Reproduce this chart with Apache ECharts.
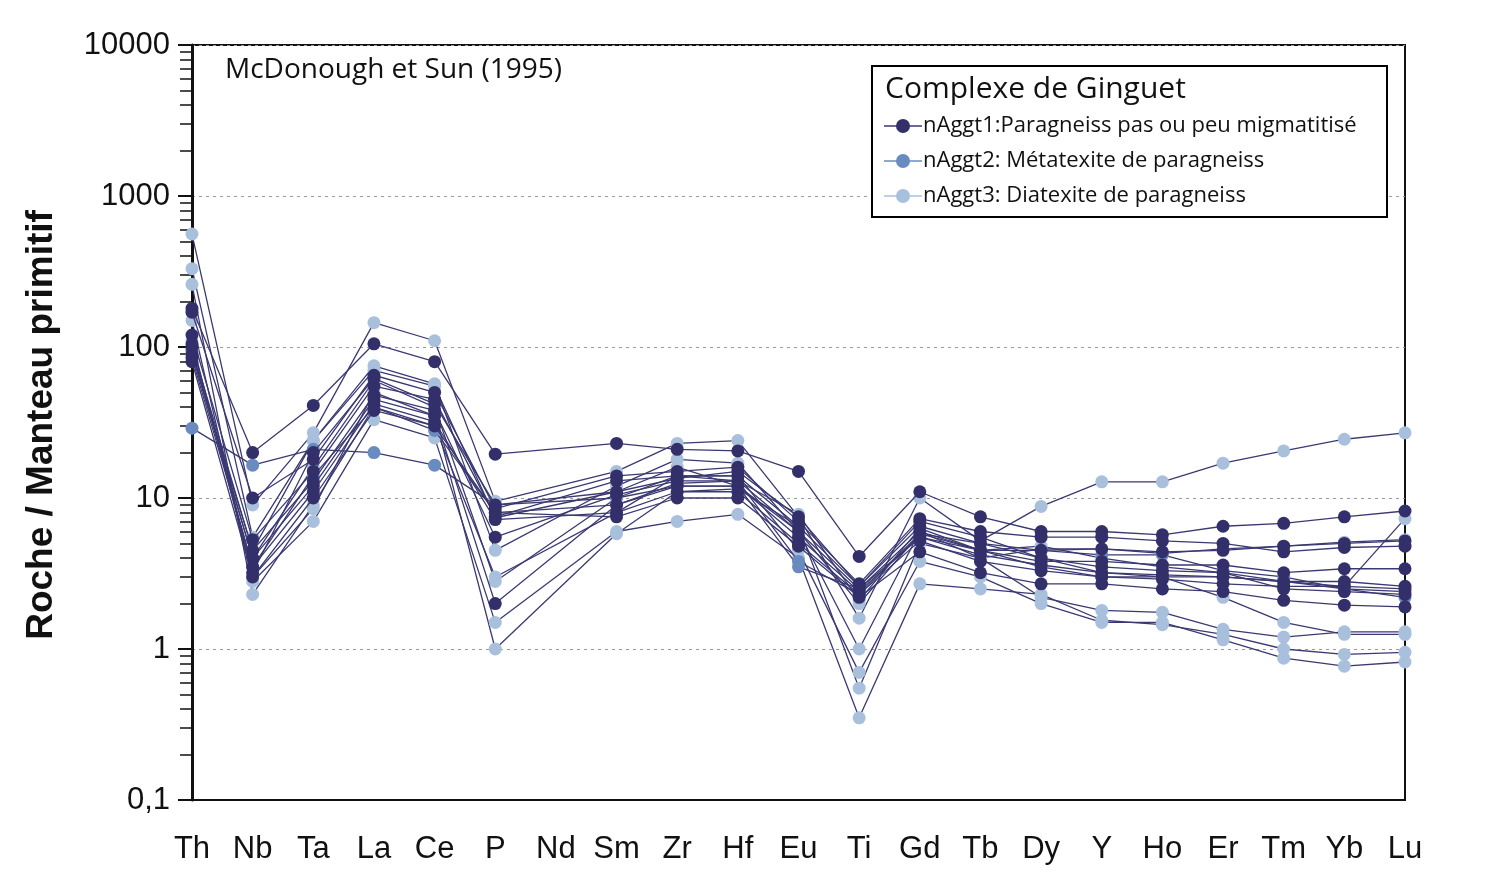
<!DOCTYPE html>
<html>
<head>
<meta charset="utf-8">
<script src="https://cdn.jsdelivr.net/npm/echarts@6/dist/echarts.min.js"></script>
<style>html,body{margin:0;padding:0;background:#fff}#main{width:1500px;height:894px}</style>
</head>
<body>
<div id="main"></div>
<script>
var elements = ['Th','Nb','Ta','La','Ce','P','Nd','Sm','Zr','Hf','Eu','Ti','Gd','Tb','Dy','Y','Ho','Er','Tm','Yb','Lu'];
var yTicks = ['0,1','1','10','100','1000','10000'];

// nAggt1: Paragneiss pas ou peu migmatitisé
var group1 = [
  [180, 20, 41, 105, 80, 19.5, null, 23, 21, 20.5, 15, 4.1, 11, 7.5, 6, 6, 5.7, 6.5, 6.8, 7.5, 8.2],
  [170, 10, 18, 65, 50, 8.5, null, 14, 15, 16, 7, 2.7, 7.3, 6, 5.5, 5.5, 5.2, 5, 4.4, 4.7, 4.8],
  [120, 5.3, 15, 55, 45, 7.5, null, 13, 14, 14, 6.5, 2.6, 6.5, 5, 4.5, 4.6, 4.4, 4.5, 4.8, 5, 5.2],
  [100, 4.5, 13, 48, 38, 5.5, null, 10.5, 13, 13, 6, 2.5, 6, 4.5, 3.8, 3.8, 3.6, 3.6, 3.2, 3.4, 3.4],
  [90, 4, 12, 45, 35, 2, null, 9, 12, 12, 5.5, 2.4, 5.5, 4.2, 3.6, 3.2, 3.1, 3, 2.8, 2.8, 2.6],
  [85, 3.5, 11, 42, 32, 7.2, null, 8, 11, 11, 5, 2.3, 5.2, 3.8, 3.3, 3.0, 2.9, 2.7, 2.6, 2.6, 2.5],
  [80, 3, 10, 38, 30, 8, null, 7.5, 10, 10, 4.8, 2.2, 4.4, 3.2, 2.7, 2.7, 2.5, 2.4, 2.1, 1.95, 1.9],
  [105, 3.2, 20, 62, 42, 9, null, 11, 13.5, 15, 7.5, 2.6, 7, 5.5, 4, 3.5, 3.3, 3.2, 2.5, 2.4, 2.3]
];
// nAggt2: Métatexite de paragneiss
var group2 = [
  [29, 16.5, 21, 20, 16.5, 9, null, 10, 12, 12, 3.5, 2.5, 5.5, 4.5, 4.5, 4.2, 4.2, 3.3, 3, 2.5, 2.2],
  [95, 3.5, 14, 40, 28, 8, null, 9, 12.5, 13, 3.8, 2.3, 5.8, 4.5, 3.5, 3, 3, 3, 2.8, 2.5, 2.4]
];
// nAggt3: Diatexite de paragneiss
var group3 = [
  [560, 9, 27, 145, 110, 9.5, null, 15, 23, 24, 7.5, 1.6, 10, 5.2, 8.8, 12.8, 12.8, 17, 20.5, 24.5, 27],
  [330, 5.5, 24, 75, 57, 4.5, null, 12, 18, 17, 6, 1, 6, 4, 2.2, 1.8, 1.75, 1.35, 1.2, 1.3, 1.3],
  [260, 2.3, 9, 40, 30, 3, null, 8, 14, 14, 4.5, 0.7, 3.8, 3, 2, 1.5, 1.5, 1.15, 0.87, 0.77, 0.82],
  [150, 2.8, 7, 33, 25, 1.5, null, 6, 7, 7.8, 4, 0.35, 2.7, 2.5, 2.3, 1.55, 1.45, 1.25, 1.0, 0.92, 0.95],
  [110, 3, 8.5, 50, 35, 1, null, 5.8, 11, 11.5, 6.5, 0.55, 5, 4, 4.6, 4.6, 4.3, 4.6, 4.8, 5.1, 5.3],
  [90, 4.5, 24, 70, 55, 7.4, null, 11, 16, 12, 6, 2, 5.8, 5, 4, 3.2, 3, 2.2, 1.5, 1.25, 1.25],
  [95, 4, 16, 60, 40, 2.8, null, 10, 14, 13, 7.8, 2.1, 6.3, 4.5, 4.8, 4, 3.5, 3.2, 2.8, 2.6, 7.3]
];

var colors = ['#332f6b', '#6a8bbf', '#a9c0dd'];
var lineColor = '#3b3972';
var series = [];
function addGroup(arr, color, z) {
  arr.forEach(function (d) {
    series.push({
      type: 'line', data: d, connectNulls: true, symbol: 'circle', symbolSize: 13,
      z: z, lineStyle: {color: lineColor, width: 1.3}, itemStyle: {color: color}
    });
  });
}
addGroup(group3, colors[2], 2);
addGroup(group2, colors[1], 3);
addGroup(group1, colors[0], 4);

var chart = echarts.init(document.getElementById('main'));
var lx = 872, ly = 66;
var legendItems = ['nAggt1:Paragneiss pas ou peu migmatitisé', 'nAggt2: Métatexite de paragneiss', 'nAggt3: Diatexite de paragneiss'];
var graphics = [
  {type: 'rect', shape: {x: lx, y: ly, width: 515, height: 151}, style: {fill: '#fff', stroke: '#000', lineWidth: 2}, z: 10},
  {type: 'text', x: lx + 13, y: ly + 8, style: {text: 'Complexe de Ginguet', font: '30px "Open Sans", sans-serif', fill: '#111'}, z: 11},
  {type: 'text', x: 225, y: 56, style: {text: 'McDonough et Sun (1995)', font: '28px "Open Sans", sans-serif', fill: '#111'}, z: 11},
  {type: 'text', x: 42, y: 425, rotation: Math.PI / 2, style: {text: 'Roche / Manteau primitif', font: 'bold 37px "Liberation Sans", Arial, sans-serif', fill: '#111', align: 'center', verticalAlign: 'middle'}, z: 11}
];
legendItems.forEach(function (t, i) {
  var yy = ly + 60 + i * 35;
  graphics.push({type: 'line', shape: {x1: lx + 12, y1: yy, x2: lx + 50, y2: yy}, style: {stroke: i === 0 ? lineColor : colors[i], lineWidth: 1.5}, z: 11});
  graphics.push({type: 'circle', shape: {cx: lx + 31, cy: yy, r: 7}, style: {fill: colors[i]}, z: 12});
  graphics.push({type: 'text', x: lx + 51, y: yy, style: {text: t, font: '22px "Open Sans", sans-serif', fill: '#111', verticalAlign: 'middle'}, z: 11});
});

chart.setOption({
  animation: false,
  grid: {left: 192, right: 95, top: 45, bottom: 94, show: true, borderColor: '#111', borderWidth: 2},
  xAxis: {
    type: 'category', data: elements, boundaryGap: false,
    axisLine: {lineStyle: {color: '#111', width: 2}},
    axisTick: {show: false},
    axisLabel: {interval: 0, color: '#111', fontSize: 31, margin: 34, fontFamily: '"Liberation Sans", Arial'},
    splitLine: {show: false}
  },
  yAxis: {
    type: 'log', logBase: 10, min: 0.1, max: 10000,
    axisLine: {show: true, lineStyle: {color: '#111', width: 3}},
    axisTick: {show: true, length: 14, lineStyle: {color: '#111', width: 2}},
    minorTick: {show: true, splitNumber: 9, length: 12, lineStyle: {color: '#111', width: 1.5}},
    axisLabel: {color: '#111', fontSize: 31, margin: 22, fontFamily: '"Liberation Sans", Arial', formatter: function (v) {
      var i = Math.round(Math.log10(v)) + 1; return yTicks[i] !== undefined ? yTicks[i] : '';
    }},
    splitLine: {show: true, lineStyle: {color: '#999', type: [3, 4], width: 1}}
  },
  series: series,
  graphic: graphics
});
</script>
</body>
</html>
